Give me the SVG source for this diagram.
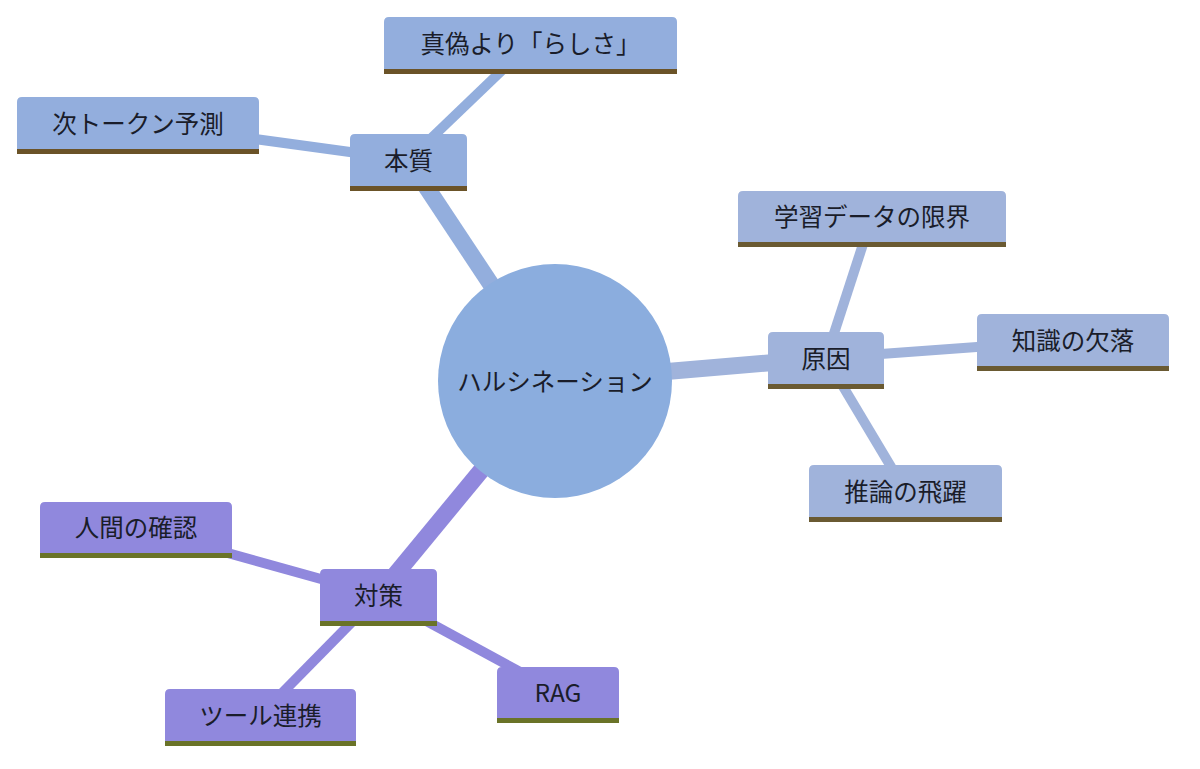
<svg xmlns="http://www.w3.org/2000/svg" width="1200" height="769" viewBox="0 0 1200 769">
<style>
  text { font-family: "Noto Sans CJK JP", "Noto Sans", sans-serif; font-size: 24.5px; fill: #1a1d2a; text-anchor: middle; dominant-baseline: central; }
  .e { fill: none; stroke-linecap: butt; }
  .d0 { stroke-width: 17; }
  .d1 { stroke-width: 10; }
  .s0 { stroke: #93aedd; }
  .s1 { stroke: #a0b3db; }
  .s2 { stroke: #9088dd; }
  .n0 { fill: #93aedd; }
  .n1 { fill: #a0b3db; }
  .n2 { fill: #9088dd; }
  .b0 { fill: #6b5328; }
  .b1 { fill: #6a5a32; }
  .b2 { fill: #6a7328; }
</style>
<rect width="1200" height="769" fill="#ffffff"/>
<g id="connectors">
  <line class="e d0 s0" x1="555" y1="381" x2="408.5" y2="160"/>
  <line class="e d1 s0" x1="408.5" y1="160" x2="530.5" y2="43"/>
  <line class="e d1 s0" x1="408.5" y1="160" x2="138" y2="123"/>
  <line class="e d0 s1" x1="555" y1="381" x2="826" y2="358"/>
  <line class="e d1 s1" x1="826" y1="358" x2="872" y2="216.5"/>
  <line class="e d1 s1" x1="826" y1="358" x2="1073" y2="340"/>
  <line class="e d1 s1" x1="826" y1="358" x2="905.5" y2="491"/>
  <line class="e d0 s2" x1="555" y1="381" x2="378.5" y2="595"/>
  <line class="e d1 s2" x1="378.5" y1="595" x2="136" y2="527.5"/>
  <line class="e d1 s2" x1="378.5" y1="595" x2="260.5" y2="715"/>
  <line class="e d1 s2" x1="378.5" y1="595" x2="558" y2="692.5"/>
</g>
<g id="root">
  <circle cx="555" cy="381" r="117" fill="#8badde"/>
  <text x="555" y="380">ハルシネーション</text>
</g>
<g id="honshitsu">
  <path class="n0" d="M350,186 V139 Q350,134 355,134 H462 Q467,134 467,139 V186 Z"/>
  <rect class="b0" x="350" y="186" width="117" height="5"/>
  <text x="408.5" y="159">本質</text>
</g>
<g id="shingi">
  <path class="n0" d="M384,69 V22 Q384,17 389,17 H672 Q677,17 677,22 V69 Z"/>
  <rect class="b0" x="384" y="69" width="293" height="5"/>
  <text x="530.5" y="42">真偽より「らしさ」</text>
</g>
<g id="next-token">
  <path class="n0" d="M17,149 V102 Q17,97 22,97 H254 Q259,97 259,102 V149 Z"/>
  <rect class="b0" x="17" y="149" width="242" height="5"/>
  <text x="138" y="122">次トークン予測</text>
</g>
<g id="genin">
  <path class="n1" d="M768,384 V337 Q768,332 773,332 H879 Q884,332 884,337 V384 Z"/>
  <rect class="b1" x="768" y="384" width="116" height="5"/>
  <text x="826" y="357">原因</text>
</g>
<g id="gakushu">
  <path class="n1" d="M738,242 V196 Q738,191 743,191 H1001 Q1006,191 1006,196 V242 Z"/>
  <rect class="b1" x="738" y="242" width="268" height="5"/>
  <text x="872" y="215.5">学習データの限界</text>
</g>
<g id="chishiki">
  <path class="n1" d="M977,366 V319 Q977,314 982,314 H1164 Q1169,314 1169,319 V366 Z"/>
  <rect class="b1" x="977" y="366" width="192" height="5"/>
  <text x="1073" y="339">知識の欠落</text>
</g>
<g id="suiron">
  <path class="n1" d="M809,517 V470 Q809,465 814,465 H997 Q1002,465 1002,470 V517 Z"/>
  <rect class="b1" x="809" y="517" width="193" height="5"/>
  <text x="905.5" y="490">推論の飛躍</text>
</g>
<g id="taisaku">
  <path class="n2" d="M320,621 V574 Q320,569 325,569 H432 Q437,569 437,574 V621 Z"/>
  <rect class="b2" x="320" y="621" width="117" height="5"/>
  <text x="378.5" y="594">対策</text>
</g>
<g id="ningen">
  <path class="n2" d="M40,553 V507 Q40,502 45,502 H227 Q232,502 232,507 V553 Z"/>
  <rect class="b2" x="40" y="553" width="192" height="5"/>
  <text x="136" y="526.5">人間の確認</text>
</g>
<g id="tool">
  <path class="n2" d="M165,741 V694 Q165,689 170,689 H351 Q356,689 356,694 V741 Z"/>
  <rect class="b2" x="165" y="741" width="191" height="5"/>
  <text x="260.5" y="714">ツール連携</text>
</g>
<g id="rag">
  <path class="n2" d="M497,718 V672 Q497,667 502,667 H614 Q619,667 619,672 V718 Z"/>
  <rect class="b2" x="497" y="718" width="122" height="5"/>
  <text x="558" y="691.5">RAG</text>
</g>
</svg>
